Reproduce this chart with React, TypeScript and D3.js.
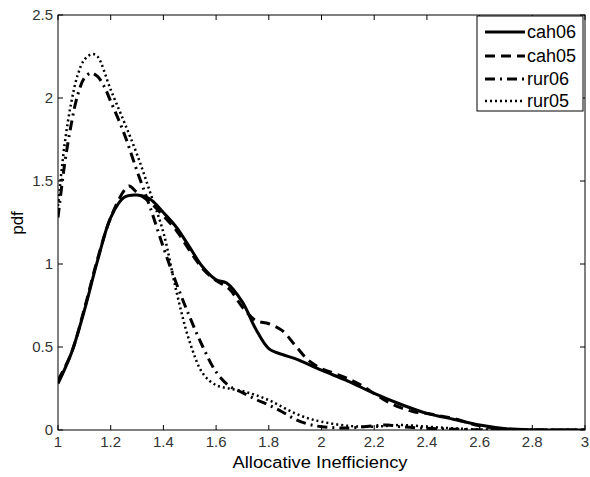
import React from "react";
import * as d3 from "d3";

const cah06X = [1.0, 1.05, 1.1, 1.15, 1.2, 1.25, 1.3, 1.35, 1.4, 1.45, 1.5, 1.55, 1.6, 1.64, 1.7, 1.75, 1.8, 1.85, 1.9, 2.0, 2.1, 2.2, 2.3, 2.4, 2.5, 2.6, 2.7, 2.8, 3.0];
const cah06Y = [0.28, 0.46, 0.72, 1.02, 1.28, 1.40, 1.415, 1.39, 1.31, 1.22, 1.10, 0.98, 0.905, 0.885, 0.77, 0.61, 0.49, 0.455, 0.43, 0.36, 0.295, 0.22, 0.155, 0.10, 0.065, 0.03, 0.008, 0.001, 0];

const cah05X = [1.0, 1.05, 1.1, 1.15, 1.2, 1.25, 1.27, 1.3, 1.35, 1.4, 1.45, 1.5, 1.55, 1.6, 1.65, 1.7, 1.75, 1.8, 1.85, 1.9, 1.95, 2.0, 2.05, 2.1, 2.15, 2.2, 2.25, 2.3, 2.35, 2.4, 2.45, 2.5, 2.6, 2.7, 2.8, 3.0];
const cah05Y = [0.30, 0.46, 0.73, 1.03, 1.28, 1.44, 1.47, 1.43, 1.37, 1.29, 1.20, 1.08, 0.97, 0.90, 0.85, 0.74, 0.66, 0.64, 0.6, 0.51, 0.42, 0.37, 0.34, 0.31, 0.27, 0.22, 0.17, 0.135, 0.11, 0.10, 0.085, 0.07, 0.025, 0.005, 0, 0];

const rur06X = [1.0, 1.025, 1.05, 1.075, 1.1, 1.125, 1.15, 1.175, 1.2, 1.25, 1.3, 1.35, 1.4, 1.45, 1.5, 1.55, 1.6, 1.65, 1.7, 1.75, 1.8, 1.85, 1.9, 1.95, 2.0, 2.1, 2.2, 2.25, 2.3, 2.4, 2.5, 2.6, 3.0];
const rur06Y = [1.28, 1.6, 1.84, 2.02, 2.12, 2.15, 2.13, 2.07, 1.98, 1.79, 1.56, 1.34, 1.10, 0.88, 0.68, 0.50, 0.35, 0.265, 0.225, 0.185, 0.15, 0.11, 0.065, 0.035, 0.02, 0.012, 0.025, 0.03, 0.02, 0.01, 0.005, 0.001, 0];

const rur05X = [1.0, 1.025, 1.05, 1.075, 1.1, 1.13, 1.15, 1.2, 1.25, 1.3, 1.35, 1.4, 1.45, 1.5, 1.55, 1.6, 1.65, 1.7, 1.75, 1.8, 1.85, 1.9, 1.95, 2.0, 2.1, 2.2, 2.3, 2.4, 2.5, 2.6, 3.0];
const rur05Y = [1.35, 1.72, 1.97, 2.14, 2.23, 2.265, 2.25, 2.05, 1.86, 1.66, 1.43, 1.19, 0.83, 0.53, 0.34, 0.27, 0.25, 0.235, 0.21, 0.18, 0.14, 0.10, 0.07, 0.05, 0.025, 0.02, 0.03, 0.02, 0.01, 0.003, 0];

const seriesNames = ["cah06", "cah05", "rur06", "rur05"];
const X_TICKS = [1, 1.2, 1.4, 1.6, 1.8, 2, 2.2, 2.4, 2.6, 2.8, 3];
const Y_TICKS = [0, 0.5, 1, 1.5, 2, 2.5];

const W = 590, H = 477;
const L = 58, R = 585, T = 15, B = 430;

export default function App() {
  const x = d3.scaleLinear().domain([1, 3]).range([L, R]);
  const y = d3.scaleLinear().domain([0, 2.5]).range([B, T]);
  const line = d3.line<[number, number]>()
    .x(d => x(d[0])).y(d => y(d[1]))
    .curve(d3.curveCatmullRom.alpha(0.5));
  const toPts = (xs: number[], ys: number[]) => xs.map((v, i) => [v, ys[i]] as [number, number]);

  const styles = [
    { dash: "none", w: 3 },
    { dash: "10,6", w: 3 },
    { dash: "10,5,2,5", w: 3 },
    { dash: "2,3", w: 2.5 },
  ];
  const data = [toPts(cah06X, cah06Y), toPts(cah05X, cah05Y), toPts(rur06X, rur06Y), toPts(rur05X, rur05Y)];
  const font = "'Liberation Sans', Arial, sans-serif";
  const tl = 5;

  const legX0 = 477, legY0 = 16, legX1 = 583, legY1 = 111;
  const legRows = [32, 56, 79, 101];

  return (
    <svg width={W} height={H} style={{ position: "absolute", left: 0, top: 0, background: "#fff" }}>
      <rect x={0} y={0} width={W} height={H} fill="#fff" />
      <defs>
        <clipPath id="plot">
          <rect x={L} y={T} width={R - L} height={B - T} />
        </clipPath>
      </defs>
      <g clipPath="url(#plot)">
        {data.map((d, i) => (
          <path key={i} d={line(d) || ""} fill="none" stroke="#000" strokeWidth={styles[i].w}
            strokeDasharray={styles[i].dash} strokeLinejoin="round" />
        ))}
      </g>
      <rect x={L} y={T} width={R - L} height={B - T} fill="none" stroke="#000" strokeWidth={1} />
      {X_TICKS.map((t, i) => (
        <g key={"x" + i}>
          <line x1={x(t)} x2={x(t)} y1={B} y2={B - tl} stroke="#000" />
          <line x1={x(t)} x2={x(t)} y1={T} y2={T + tl} stroke="#000" />
          <text x={x(t)} y={447} textAnchor="middle" fontFamily={font} fontSize={15} fill="#333">{String(t)}</text>
        </g>
      ))}
      {Y_TICKS.map((t, i) => (
        <g key={"y" + i}>
          <line x1={L} x2={L + tl} y1={y(t)} y2={y(t)} stroke="#000" />
          <line x1={R} x2={R - tl} y1={y(t)} y2={y(t)} stroke="#000" />
          <text x={53} y={y(t) + 5} textAnchor="end" fontFamily={font} fontSize={15} fill="#333">{String(t)}</text>
        </g>
      ))}
      <text x={320} y={468} textAnchor="middle" fontFamily={font} fontSize={16} fill="#000"
        textLength={175} lengthAdjust="spacingAndGlyphs">Allocative Inefficiency</text>
      <text transform={`translate(23,${223}) rotate(-90)`} textAnchor="middle" fontFamily={font} fontSize={17} fill="#000">pdf</text>
      <rect x={legX0} y={legY0} width={legX1 - legX0} height={legY1 - legY0} fill="#fff" stroke="#000" strokeWidth={1} />
      {seriesNames.map((n, i) => (
        <g key={"l" + i}>
          <line x1={485} x2={525} y1={legRows[i]} y2={legRows[i]} stroke="#000" strokeWidth={styles[i].w}
            strokeDasharray={styles[i].dash} />
          <text x={527} y={legRows[i] + 6} fontFamily={font} fontSize={18} fill="#000">{n}</text>
        </g>
      ))}
    </svg>
  );
}
